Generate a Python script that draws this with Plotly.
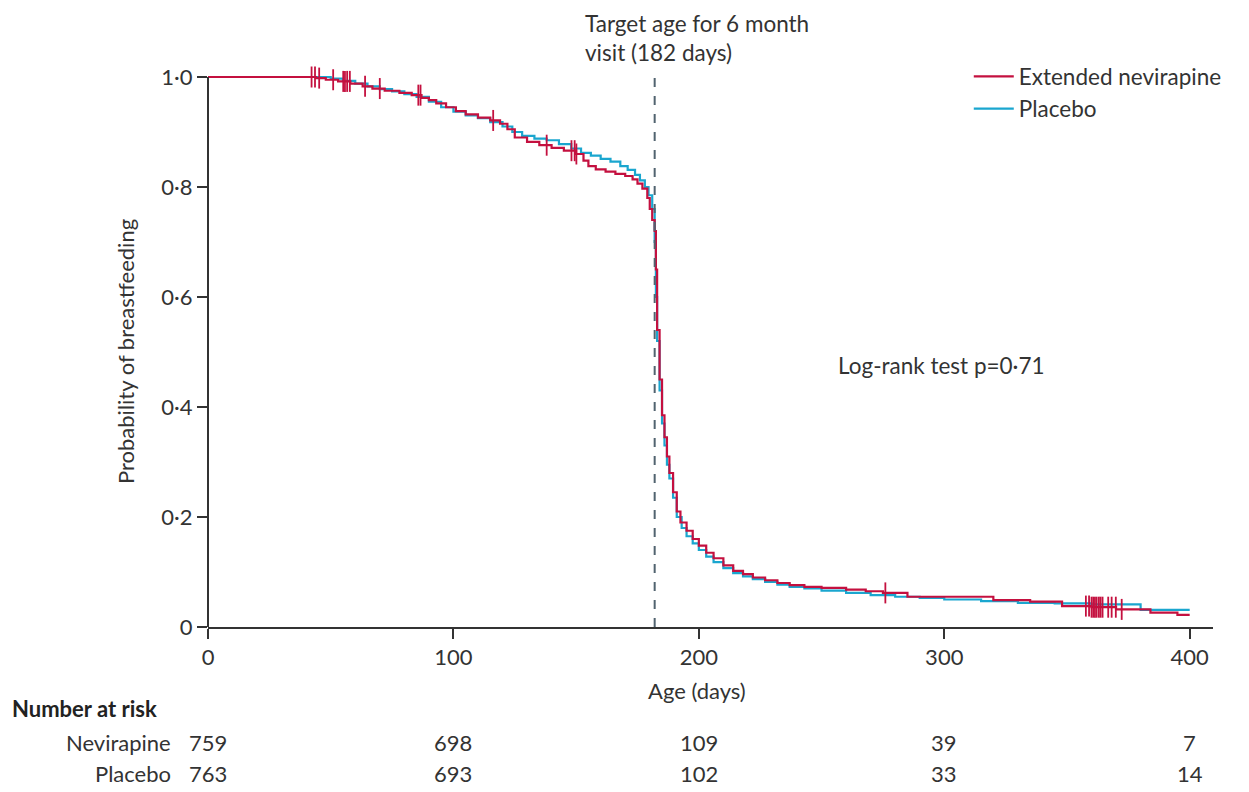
import bisect
import plotly.graph_objects as go

# ---------------- data ----------------
nev_days = [0, 40, 44, 48, 53, 58, 63, 67, 72, 78, 83, 87, 90, 93, 97, 101, 105, 110, 115, 119,
            122, 125, 130, 135, 140, 145, 150, 153, 155, 158, 162, 166, 170, 173, 175, 177, 179,
            180, 181, 182, 182.5, 183, 184, 185, 186, 187, 188, 189.5, 191, 192.5, 195, 197.5,
            200, 203, 206, 210, 214, 218, 222, 227, 232, 237, 243, 250, 260, 268, 275, 285, 320,
            335, 348, 360, 370, 384, 395, 400]
nev_surv = [1.0, 1.0, 0.998, 0.995, 0.992, 0.988, 0.983, 0.979, 0.975, 0.971, 0.967, 0.962, 0.958,
            0.952, 0.945, 0.938, 0.932, 0.926, 0.921, 0.915, 0.905, 0.89, 0.882, 0.876, 0.871,
            0.866, 0.86, 0.848, 0.838, 0.832, 0.828, 0.824, 0.82, 0.814, 0.806, 0.797, 0.78, 0.76,
            0.74, 0.72, 0.65, 0.54, 0.45, 0.385, 0.345, 0.31, 0.28, 0.245, 0.21, 0.19, 0.175,
            0.16, 0.148, 0.135, 0.125, 0.112, 0.102, 0.096, 0.09, 0.085, 0.08, 0.076, 0.073,
            0.071, 0.068, 0.065, 0.062, 0.055, 0.049, 0.046, 0.038, 0.036, 0.032, 0.026, 0.022,
            0.022]

pla_days = [0, 45, 50, 55, 60, 65, 70, 75, 80, 85, 90, 95, 100, 105, 110, 115, 120, 124, 128, 133,
            138, 143, 148, 152, 156, 160, 164, 168, 171, 174, 176, 178, 179.5, 181, 182, 182.5,
            183, 184, 185, 186, 187, 188, 189.5, 191, 193, 195, 197.5, 200, 203, 206, 210, 214,
            218, 222, 227, 232, 237, 243, 250, 260, 270, 280, 290, 300, 315, 330, 345, 360, 380,
            400]
pla_surv = [1.0, 1.0, 0.997, 0.993, 0.988, 0.983, 0.978, 0.974, 0.969, 0.964, 0.955, 0.945,
            0.937, 0.93, 0.925, 0.918, 0.91, 0.9, 0.893, 0.888, 0.885, 0.878, 0.87, 0.862, 0.857,
            0.851, 0.846, 0.838, 0.831, 0.822, 0.812, 0.8, 0.785, 0.76, 0.7, 0.6, 0.52, 0.43,
            0.37, 0.33, 0.295, 0.27, 0.235, 0.2, 0.18, 0.165, 0.152, 0.14, 0.128, 0.118, 0.107,
            0.098, 0.092, 0.087, 0.082, 0.077, 0.073, 0.07, 0.066, 0.062, 0.058, 0.055, 0.053,
            0.05, 0.047, 0.044, 0.043, 0.041, 0.031, 0.031]

nev_censor_days = [42.2, 43.6, 45.3, 51, 55.1, 55.8, 56.7, 57.8, 64, 70, 85.7, 86.6, 116.2, 138,
                   148.1, 149.4, 150.1, 276, 357.7, 359, 360, 360.7, 361.4, 362.1, 363, 363.7,
                   364.5, 366.8, 368.2, 369.9, 372.3]

risk_ticks = [0, 100, 200, 300, 400]
risk_nev = [759, 698, 109, 39, 7]
risk_pla = [763, 693, 102, 33, 14]

x_ticks = [0, 100, 200, 300, 400]
y_ticks = [0, 0.2, 0.4, 0.6, 0.8, 1.0]
y_ticktext = ["0", "0·2", "0·4", "0·6", "0·8", "1·0"]

RED = "#C4103F"
BLUE = "#1AA6CF"
DARK = "#333333"
FONT = "Lato"

# page geometry (the page is drawn with an 8 px body margin)
PLOT_L, PLOT_W, PLOT_BOTTOM, PLOT_H = 208, 1005, 627, 561


def step_value(days, surv, t):
    i = bisect.bisect_right(days, t) - 1
    return surv[max(i, 0)]


def px(xpix):
    return (xpix - PLOT_L) / PLOT_W


def py(ypix):
    return (PLOT_BOTTOM - ypix) / PLOT_H


nev_censor_surv = [step_value(nev_days, nev_surv, t) for t in nev_censor_days]

fig = go.Figure()
fig.add_trace(go.Scatter(x=pla_days, y=pla_surv, mode="lines", line_shape="hv",
                         line=dict(color=BLUE, width=2.2), name="Placebo"))
fig.add_trace(go.Scatter(x=nev_days, y=nev_surv, mode="lines", line_shape="hv",
                         line=dict(color=RED, width=2.2), name="Extended nevirapine"))
fig.add_trace(go.Scatter(x=nev_censor_days, y=nev_censor_surv, mode="markers",
                         marker=dict(symbol="line-ns", size=15,
                                     line=dict(color=RED, width=1.8)),
                         showlegend=False, hoverinfo="skip"))

# vertical dashed line at 182 days
fig.add_shape(type="line", x0=182, x1=182, y0=0, y1=1.0, xref="x", yref="y",
              line=dict(color="#51636F", width=2, dash="dash"))
# y axis line (0 to 1)
fig.add_shape(type="line", x0=0, x1=0, y0=0, y1=1.0, xref="paper", yref="y",
              line=dict(color=DARK, width=2))

fig.add_annotation(text="Target age for 6 month", xref="paper", yref="paper",
                   x=px(583), y=py(8), xanchor="left", yanchor="top", showarrow=False,
                   font=dict(family=FONT, size=22.5, color=DARK))
ann = [("visit (182 days)", 583, 52), ("Log-rank test p=0·71", 836, 365)]
for text, xp, yp in ann:
    fig.add_annotation(text=text, xref="paper", yref="paper", x=px(xp), y=py(yp),
                       xanchor="left", yanchor="middle", showarrow=False,
                       font=dict(family=FONT, size=22.5, color=DARK))

fig.add_annotation(text="Probability of breastfeeding", xref="paper", yref="paper",
                   x=px(125), y=py(352), textangle=-90,
                   xanchor="center", yanchor="middle", showarrow=False,
                   font=dict(family=FONT, size=22, color=DARK))
fig.add_annotation(text="Age (days)", xref="paper", yref="paper",
                   x=px(697), y=py(690),
                   xanchor="center", yanchor="middle", showarrow=False,
                   font=dict(family=FONT, size=22, color=DARK))
fig.add_annotation(text="<b>Number at risk</b>", xref="paper", yref="paper",
                   x=px(10), y=py(708),
                   xanchor="left", yanchor="middle", showarrow=False,
                   font=dict(family=FONT, size=22, color="#222222"))
for label, vals, ypix in [("Nevirapine", risk_nev, 742), ("Placebo", risk_pla, 773)]:
    fig.add_annotation(text=label, xref="paper", yref="paper",
                       x=px(173), y=py(ypix),
                       xanchor="right", yanchor="middle", showarrow=False,
                       font=dict(family=FONT, size=22, color=DARK))
    for t, v in zip(risk_ticks, vals):
        fig.add_annotation(text=str(v), xref="x", yref="paper",
                           x=t, y=py(ypix),
                           xanchor="center", yanchor="middle", showarrow=False,
                           font=dict(family=FONT, size=22, color=DARK))

fig.update_layout(
    width=1233, height=784,
    margin=dict(l=200, r=28, t=58, b=165),
    paper_bgcolor="white", plot_bgcolor="white",
    font=dict(family=FONT, size=22, color=DARK),
    legend=dict(x=0.757, y=1.019, xanchor="left", yanchor="top",
                traceorder="reversed", bgcolor="rgba(0,0,0,0)",
                font=dict(family=FONT, size=22.5, color=DARK),
                itemwidth=40, tracegroupgap=0),
    xaxis=dict(range=[0, 409.5], tickvals=x_ticks, showline=True, linecolor=DARK,
               linewidth=2, ticks="outside", ticklen=10, tickwidth=2, tickcolor=DARK,
               showgrid=False, zeroline=False, tickfont=dict(size=22, color=DARK)),
    yaxis=dict(range=[0, 1.02], tickvals=y_ticks, ticktext=y_ticktext, showline=False,
               ticks="outside", ticklen=10, tickwidth=2, tickcolor=DARK,
               showgrid=False, zeroline=False, tickfont=dict(size=22, color=DARK)),
)

fig.write_html("out.html")
